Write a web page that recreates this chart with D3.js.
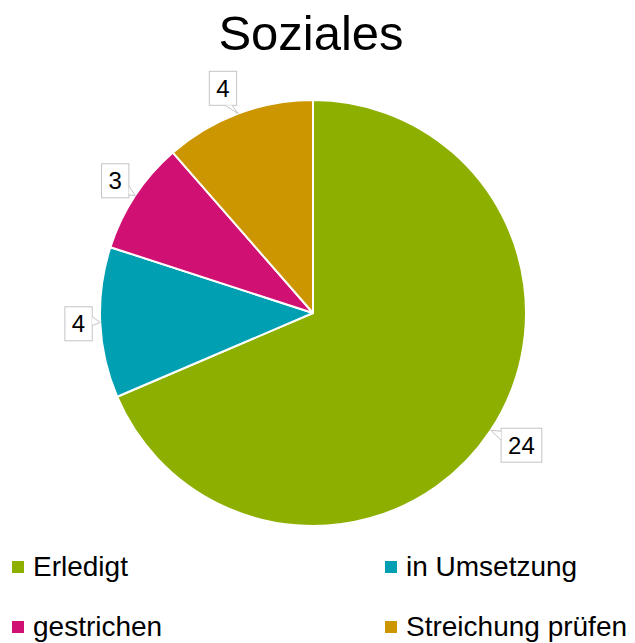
<!DOCTYPE html>
<html><head><meta charset="utf-8">
<script src="https://cdn.jsdelivr.net/npm/d3@7"></script>
<style>body{margin:0;background:#fff}svg{display:block}</style>
</head><body>
<script>
const title = "Soziales";
const categories = ["Erledigt", "in Umsetzung", "gestrichen", "Streichung prüfen"];
const values = [24, 4, 3, 4];
const colors = ["#8db000", "#009fb1", "#d01073", "#cc9600"];

const W = 635, H = 643;
const cx = 313, cy = 313, R = 213;
const font = "'Liberation Sans', Arial, sans-serif";

const svg = d3.select("body").append("svg").attr("width", W).attr("height", H);

svg.append("text").attr("x", 311).attr("y", 50).attr("text-anchor", "middle")
  .attr("font-family", font).attr("font-size", 49).attr("fill", "#000").text(title);

const data = categories.map((c, i) => ({ cat: c, value: values[i], color: colors[i] }));
const pie = d3.pie().value(d => d.value).sort(null);
const arcs = pie(data);
const arc = d3.arc().innerRadius(0).outerRadius(R);

const g = svg.append("g").attr("transform", `translate(${cx},${cy})`);
g.selectAll("path.slice").data(arcs).enter().append("path")
  .attr("class", "slice").attr("d", arc)
  .attr("fill", d => d.data.color).attr("stroke", "#fff").attr("stroke-width", 2)
  .attr("stroke-linejoin", "round");

// callout labels
const lab = svg.append("g");
const boxH = 34, pad = 7, gap = 10, fs = 24;
arcs.forEach(a => {
  const mid = (a.startAngle + a.endAngle) / 2;
  const s = Math.sin(mid), c = Math.cos(mid);
  const tip = [cx + R * s, cy - R * c];
  const anc = [tip[0] + gap * s, tip[1] - gap * c];
  const txt = String(a.data.value);
  const tw = txt.length * fs * 0.556;
  const bw = tw + 2 * pad;
  const x0 = s >= 0 ? anc[0] + 2 : anc[0] - bw + 2;
  const y0 = anc[1] - boxH * (1 + c) / 2;
  const x1 = x0 + bw, y1 = y0 + boxH;
  let b1, b2;
  if (Math.abs(c) > 0.8) {
    const ey = c > 0 ? y1 : y0;
    const px = Math.max(x0 + 4, Math.min(x1 - 10, tip[0] - 13));
    b1 = [px, ey]; b2 = [px + 7, ey];
  } else {
    const ex = s > 0 ? x0 : x1;
    const py = Math.max(y0 + 3, Math.min(y1 - 12, tip[1] - 6));
    b1 = [ex, py]; b2 = [ex, py + 9];
  }
  lab.append("rect").attr("x", x0).attr("y", y0).attr("width", bw).attr("height", boxH)
    .attr("fill", "#fff").attr("stroke", "#c4c4c4").attr("stroke-width", 1);
  lab.append("path").attr("d", `M${b1[0]},${b1[1]}L${tip[0]},${tip[1]}L${b2[0]},${b2[1]}Z`)
    .attr("fill", "#fff").attr("stroke", "none");
  lab.append("path").attr("d", `M${b1[0]},${b1[1]}L${tip[0]},${tip[1]}L${b2[0]},${b2[1]}`)
    .attr("fill", "none").attr("stroke", "#c4c4c4").attr("stroke-width", 1);
  lab.append("text").attr("x", (x0 + x1) / 2).attr("y", y0 + boxH / 2 + fs * 0.36)
    .attr("text-anchor", "middle").attr("font-family", font).attr("font-size", fs)
    .attr("fill", "#000").text(txt);
});

// legend
const leg = svg.append("g");
const colX = [12, 385], rowY = [567, 627];
data.forEach((d, i) => {
  const x = colX[i % 2], y = rowY[Math.floor(i / 2)];
  leg.append("rect").attr("x", x).attr("y", y - 6).attr("width", 12).attr("height", 12).attr("fill", d.color);
  leg.append("text").attr("x", x + 21).attr("y", y + 9).attr("font-family", font)
    .attr("font-size", 28).attr("fill", "#000").text(d.cat);
});
</script>
</body></html>
